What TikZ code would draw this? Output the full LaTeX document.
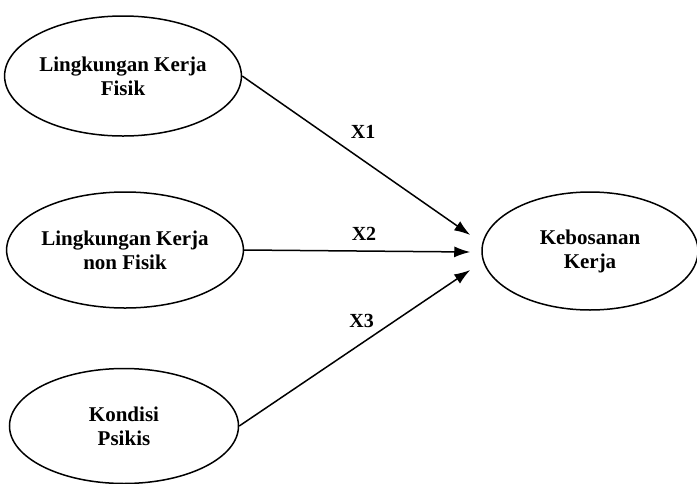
\documentclass[tikz,border=0pt]{standalone}
\usepackage{tikz}
\usetikzlibrary{arrows.meta,shapes.geometric}
\usepackage{fontspec}
\setmainfont{Liberation Serif}

\begin{document}
\begin{tikzpicture}[x=1pt,y=-1pt,
  var/.style={draw,ellipse,line width=1.5pt,inner sep=0pt,align=center,
    font=\fontsize{21}{24}\selectfont\bfseries},
  conn/.style={line width=1.5pt,-{Latex[length=16pt,width=11pt]}},
  lbl/.style={font=\fontsize{20}{22}\selectfont\bfseries}]
\useasboundingbox (0,0) rectangle (697,483);

%variables
\node[var,minimum width=227pt,minimum height=120pt] (lkf) at (123,76) {Lingkungan Kerja\\Fisik};
\node[var,minimum width=230pt,minimum height=116pt] (lknf) at (125,250) {Lingkungan Kerja\\non Fisik};
\node[var,minimum width=229pt,minimum height=115pt] (kp) at (124,426) {Kondisi\\Psikis};
\node[var,minimum width=216pt,minimum height=118pt] (kk) at (590,251) {Kebosanan\\Kerja};

%arrow tips
\coordinate (t1) at ([xshift=-11pt,yshift=16pt]kk.west);
\coordinate (t2) at ([xshift=-11pt,yshift=-1pt]kk.west);
\coordinate (t3) at ([xshift=-11pt,yshift=-19pt]kk.west);

%arrows
\draw[conn] (lkf.east) -- (t1) node[lbl,pos=0.53,above=18pt] {X1};
\draw[conn] (lknf.east) -- (t2) node[lbl,pos=0.53,above=6pt] {X2};
\draw[conn] (kp.east) -- (t3) node[lbl,pos=0.53,above=12pt] {X3};
\end{tikzpicture}
\end{document}
